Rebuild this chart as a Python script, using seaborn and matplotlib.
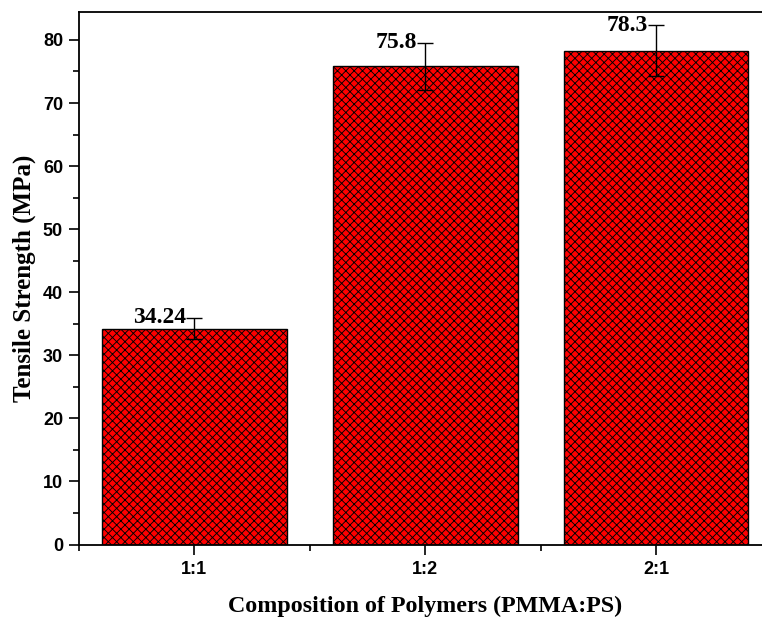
import matplotlib
matplotlib.use("Agg")
import matplotlib.pyplot as plt
import seaborn as sns
import pandas as pd
from matplotlib.ticker import MultipleLocator, FixedLocator

# Tensile strength of PMMA:PS blends
compositions = ["1:1", "1:2", "2:1"]
strength = [34.24, 75.8, 78.3]
strength_err = [1.7, 3.75, 4.0]
value_labels = ["34.24", "75.8", "78.3"]

sns.set_theme(style="white")
plt.rcParams["hatch.linewidth"] = 0.65
plt.rcParams["hatch.color"] = "black"

df = pd.DataFrame({"Composition": compositions, "Strength": strength})

fig = plt.figure(figsize=(7.62, 6.19), dpi=100)
ax = fig.add_axes([0.1037, 0.1203, 0.9088, 0.861])

sns.barplot(data=df, x="Composition", y="Strength", color="#ff0000",
            saturation=1, width=0.8, edgecolor="black", linewidth=1.0,
            hatch="xxxx", errorbar=None, ax=ax)

ax.errorbar(range(len(compositions)), strength, yerr=strength_err, fmt="none",
            ecolor="black", elinewidth=1.0, capsize=5.5, capthick=1.0, zorder=5)

for i, (v, e, lab) in enumerate(zip(strength, strength_err, value_labels)):
    ax.text(i - 0.035, v + e, lab, ha="right", va="center",
            fontsize=17, fontweight="bold", family="Liberation Serif",
            color="black")

ax.set_xlim(-0.5, 2.5)
ax.set_ylim(0, 84.5)

ax.yaxis.set_major_locator(MultipleLocator(10))
ax.yaxis.set_minor_locator(MultipleLocator(5))
ax.xaxis.set_minor_locator(FixedLocator([-0.5, 0.5, 1.5, 2.5]))

ax.tick_params(axis="both", which="major", direction="out", length=7.5,
               width=1.2, color="black", labelsize=13, pad=4,
               bottom=True, left=True, top=False, right=False)
ax.tick_params(axis="both", which="minor", direction="out", length=4.5,
               width=1.2, color="black", bottom=True, left=True,
               top=False, right=False)
for lab in ax.get_xticklabels() + ax.get_yticklabels():
    lab.set_fontweight("bold")
    lab.set_family("Liberation Sans")
    lab.set_color("black")

for side in ["left", "bottom", "top", "right"]:
    ax.spines[side].set_visible(True)
    ax.spines[side].set_color("black")
    ax.spines[side].set_linewidth(1.3)

ax.set_xlabel("Composition of Polymers (PMMA:PS)", fontsize=17.3,
              fontweight="bold", family="Liberation Serif", color="black",
              labelpad=13)
ax.set_ylabel("Tensile Strength (MPa)", fontsize=18, fontweight="bold",
              family="Liberation Serif", color="black", labelpad=5)

fig.savefig("out.png", dpi=100)
